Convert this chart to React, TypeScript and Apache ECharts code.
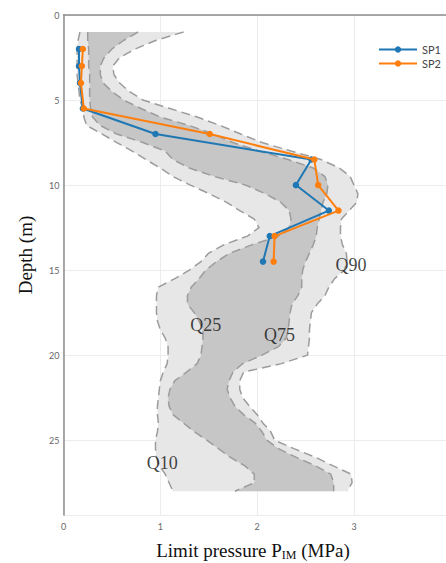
import React, { useEffect, useRef } from "react";
import * as echarts from "echarts";

// Depth levels (m) of the quantile envelopes
const depths = [
  1, 1.5, 2, 2.5, 3, 3.5, 4, 4.5, 5, 5.5, 6, 6.5, 7, 7.5, 8, 8.5, 9, 9.5, 10,
  10.5, 11, 11.5, 12, 12.5, 13, 13.5, 14, 14.5, 15, 15.5, 16, 16.5, 17, 17.5,
  18, 18.5, 19, 19.5, 20, 20.5, 21, 21.5, 22, 22.5, 23, 23.5, 24, 24.5, 25,
  25.5, 26, 26.5, 27, 27.5, 28,
];
const q10 = [
  0.17, 0.15, 0.14, 0.14, 0.14, 0.14, 0.15, 0.16, 0.17, 0.2, 0.21, 0.24, 0.4,
  0.55, 0.71, 0.85, 1.0, 1.13, 1.31, 1.5, 1.68, 1.82, 1.97, 2.02, 1.9, 1.66,
  1.5, 1.42, 1.3, 1.15, 0.98, 0.96, 0.96, 0.96, 0.97, 1.0, 1.05, 1.08, 1.08,
  1.07, 1.03, 1.0, 0.99, 0.98, 0.97, 0.97, 0.98, 0.97, 0.95, 0.95, 0.96, 0.99,
  1.05, 1.09, 1.13,
];
const q25 = [
  0.25, 0.25, 0.26, 0.26, 0.26, 0.27, 0.27, 0.27, 0.27, 0.28, 0.3, 0.38, 0.55,
  0.82, 1.05, 1.13, 1.3, 1.56, 1.88, 2.08, 2.24, 2.33, 2.35, 2.33, 2.22, 1.95,
  1.72, 1.58, 1.47, 1.4, 1.32, 1.28, 1.28, 1.35, 1.4, 1.44, 1.44, 1.43, 1.42,
  1.38, 1.27, 1.15, 1.1, 1.08, 1.09, 1.13, 1.24, 1.35, 1.48, 1.6, 1.72, 1.87,
  1.97, 1.97, 1.77,
];
const q75 = [
  0.77, 0.62, 0.5, 0.42, 0.38, 0.38, 0.41, 0.5, 0.62, 0.8, 1.0, 1.3, 1.55, 1.75,
  2.02, 2.32, 2.58, 2.7, 2.73, 2.72, 2.68, 2.66, 2.64, 2.62, 2.61, 2.58, 2.54,
  2.5, 2.47, 2.46, 2.46, 2.42, 2.36, 2.34, 2.33, 2.32, 2.3, 2.22, 2.05, 1.85,
  1.75, 1.71, 1.69, 1.72, 1.77, 1.86, 1.98, 2.05, 2.1, 2.22, 2.4, 2.6, 2.76,
  2.79, 2.79,
];
const q90 = [
  1.24, 0.95, 0.74, 0.58, 0.51, 0.52, 0.58, 0.68, 0.82, 1.1, 1.38, 1.62, 1.83,
  2.05, 2.35, 2.66, 2.85, 2.96, 3.0, 3.04, 3.03, 2.95, 2.87, 2.86, 2.86, 2.88,
  2.92, 2.93, 2.9, 2.8, 2.74, 2.7, 2.62, 2.56, 2.55, 2.54, 2.54, 2.53, 2.52,
  2.25, 1.86, 1.82, 1.82, 1.85, 1.92, 2.0, 2.06, 2.14, 2.18, 2.38, 2.6, 2.78,
  2.97, 2.98, 2.93,
];

// Measured profiles
const spDepths = [2, 3, 4, 5.5, 7, 8.5, 10, 11.5, 13, 14.5];
const sp1 = [0.16, 0.16, 0.17, 0.2, 0.95, 2.56, 2.4, 2.74, 2.13, 2.06];
const sp2 = [0.2, 0.19, 0.18, 0.21, 1.51, 2.59, 2.63, 2.84, 2.18, 2.17];

// Quantile annotations
const qNames = ["Q90", "Q25", "Q75", "Q10"];
const qLabelX = [2.97, 1.47, 2.23, 1.02];
const qLabelDepth = [14.7, 18.2, 18.8, 26.35];

const xMin = 0;
const xMax = 3.95;
const yMin = 0;
const yMax = 29.4;

const SERIF = "Liberation Serif, Times New Roman, serif";
const SANS = "Lato, Open Sans, sans-serif";

function band(lo: number[], hi: number[], color: string, z: number) {
  return {
    type: "custom",
    silent: true,
    z,
    data: [[lo[0], depths[0]]],
    renderItem: (_params: any, api: any) => {
      const pts: number[][] = [];
      for (let i = 0; i < depths.length; i++) pts.push(api.coord([lo[i], depths[i]]));
      for (let i = depths.length - 1; i >= 0; i--) pts.push(api.coord([hi[i], depths[i]]));
      return { type: "polygon", shape: { points: pts }, style: { fill: color } };
    },
  };
}

function dashed(q: number[]) {
  return {
    type: "line",
    silent: true,
    z: 3,
    showSymbol: false,
    symbol: "none",
    data: q.map((v, i) => [v, depths[i]]),
    lineStyle: { color: "#9c9c9c", width: 1.5, type: [9, 5] },
  };
}

export default function App() {
  const ref = useRef<HTMLDivElement>(null);
  useEffect(() => {
    if (!ref.current) return;
    const chart = echarts.init(ref.current, undefined, { renderer: "svg" });
    const option: any = {
      animation: false,
      backgroundColor: "#ffffff",
      grid: { left: 63.5, top: 15, right: 0, bottom: 48, containLabel: false },
      legend: {
        data: ["SP1", "SP2"],
        orient: "vertical",
        left: 373,
        top: 39,
        itemWidth: 38,
        itemHeight: 8,
        itemGap: 3,
        textStyle: { fontSize: 11, color: "#444", fontFamily: SANS },
      },
      xAxis: [
        {
          type: "value",
          min: xMin,
          max: xMax,
          interval: 1,
          position: "bottom",
          axisLine: { show: false, onZero: false },
          axisTick: { show: false },
          axisLabel: { fontSize: 9, color: "#666", margin: 7, showMaxLabel: false, fontFamily: SANS },
          splitLine: { show: true, lineStyle: { color: "#ececec", width: 1 } },
        },
        {
          type: "value",
          min: xMin,
          max: xMax,
          interval: 1,
          position: "top",
          axisLine: { show: true, onZero: false, lineStyle: { color: "#8c8c8c", width: 1.5 } },
          axisTick: { show: false },
          axisLabel: { show: false },
          splitLine: { show: false },
        },
      ],
      yAxis: {
        type: "value",
        inverse: true,
        min: yMin,
        max: yMax,
        interval: 5,
        axisLine: { show: true, onZero: false, lineStyle: { color: "#8c8c8c", width: 1.5 } },
        axisTick: { show: false },
        axisLabel: { fontSize: 9, color: "#666", margin: 4, showMaxLabel: false, fontFamily: SANS },
        splitLine: { show: true, lineStyle: { color: "#ececec", width: 1 } },
      },
      graphic: [
        {
          type: "text",
          x: 253,
          y: 550,
          style: {
            text: "{a|Limit pressure P}{s|IM}{a| (MPa)}",
            align: "center",
            verticalAlign: "middle",
            fill: "#111",
            rich: {
              a: { fontSize: 19, fontFamily: SERIF, lineHeight: 22, verticalAlign: "middle", fill: "#111" },
              s: { fontSize: 12, fontFamily: SERIF, verticalAlign: "bottom", fill: "#111" },
            },
          },
        },
        {
          type: "text",
          x: 25,
          y: 255,
          rotation: Math.PI / 2,
          style: {
            text: "Depth (m)",
            align: "center",
            verticalAlign: "middle",
            fill: "#111",
            fontSize: 19,
            fontFamily: SERIF,
          },
        },
      ],
      series: [
        band(q10, q90, "#e7e7e7", 1),
        band(q25, q75, "#c6c6c6", 2),
        dashed(q10),
        dashed(q25),
        dashed(q75),
        dashed(q90),
        {
          type: "scatter",
          silent: true,
          z: 4,
          symbolSize: 0,
          data: qNames.map((n, i) => ({ name: n, value: [qLabelX[i], qLabelDepth[i]] })),
          label: {
            show: true,
            position: "inside",
            formatter: "{b}",
            fontFamily: SERIF,
            fontSize: 18,
            color: "#111",
          },
        },
        {
          name: "SP1",
          type: "line",
          z: 5,
          data: sp1.map((v, i) => [v, spDepths[i]]),
          symbol: "circle",
          symbolSize: 6.5,
          color: "#1f77b4",
          lineStyle: { color: "#1f77b4", width: 2 },
          itemStyle: { color: "#1f77b4" },
        },
        {
          name: "SP2",
          type: "line",
          z: 6,
          data: sp2.map((v, i) => [v, spDepths[i]]),
          symbol: "circle",
          symbolSize: 6.5,
          color: "#ff7f0e",
          lineStyle: { color: "#ff7f0e", width: 2 },
          itemStyle: { color: "#ff7f0e" },
        },
      ],
    };
    chart.setOption(option);
    return () => chart.dispose();
  }, []);
  return (
    <div
      ref={ref}
      style={{ position: "fixed", left: 0, top: 0, width: 446, height: 563, background: "#fff" }}
    />
  );
}
